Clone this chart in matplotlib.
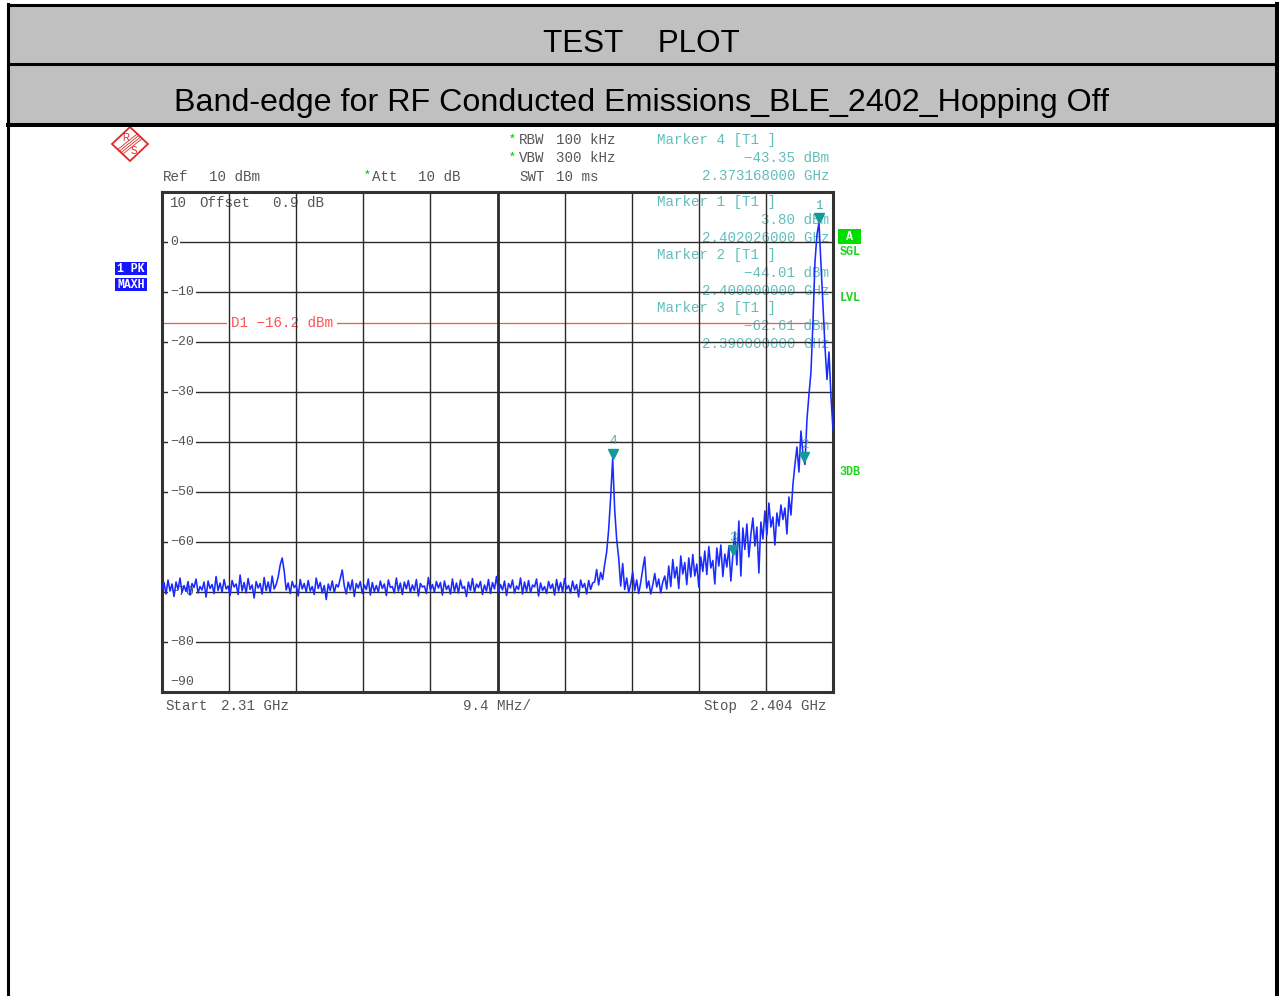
"""
Spectrum analyzer screenshot: band-edge, BLE 2402 MHz, hopping off.
Run:  python plot.py
"""

import matplotlib
matplotlib.use("Agg")
import matplotlib.pyplot as plt
import matplotlib.transforms as mtransforms
from matplotlib.patches import Rectangle, Polygon
import numpy as np

W, H = 1279, 996
MONO = ["Liberation Mono", "DejaVu Sans Mono"]
SANS = ["Liberation Sans", "DejaVu Sans"]
GREY = "#555555"
TEAL_TXT = "#62bdbd"
TEAL = "#14999a"
GREEN = "#1fd31f"
BLUE = "#1515ff"
RED = "#ff5050"

TITLE = "TEST    PLOT"
SUBTITLE = "Band-edge for RF Conducted Emissions_BLE_2402_Hopping Off"

START_GHZ, STOP_GHZ = 2.31, 2.404
REF_DBM, BOTTOM_DBM = 10, -90
GRID_DBM = [0, -10, -20, -30, -40, -50, -60, -70, -80]
DISPLAY_LINE_DBM = -16.2

MARKER_IDS = [1, 2, 3, 4]
MARKER_FREQ = [2.402026, 2.400, 2.390, 2.373168]
MARKER_LEVEL = [3.80, -44.01, -62.61, -43.35]

# max-hold trace (dBm), 336 sweep points
floor_low = [
    -69.2, -68.1, -70.4, -67.6, -69.8, -68.4, -70.9, -68.0, -69.5, -67.2,
    -70.1, -68.7, -69.9, -67.9, -70.6, -68.3, -69.1, -67.4, -70.2, -68.9,
    -69.6, -68.0, -71.0, -67.8, -69.3, -68.5, -70.3, -66.9, -69.7, -68.2,
    -70.0, -67.5, -69.4, -68.8, -70.7, -67.7, -69.0, -68.4, -70.5, -66.6,
    -69.8, -68.1, -70.2, -67.3, -69.5, -68.6, -71.2, -67.9, -69.2, -68.3,
    -70.4, -67.1, -69.7, -68.0, -70.1, -66.8, -69.4, -68.5, -67.0]
spur_2327 = [-64.6, -63.2, -65.8]
floor_mid = [
    -69.6, -68.2, -70.3, -67.9, -69.1, -68.6, -70.8, -67.5, -69.4, -68.3,
    -70.0, -67.7, -69.8, -68.9, -70.5, -67.2, -69.3, -68.1, -70.2, -68.7,
    -71.5, -68.4, -69.7, -67.8, -70.1, -68.5, -69.0, -67.3, -65.6, -68.8,
    -70.4, -68.0, -69.6, -67.6, -70.9, -68.3, -69.2, -67.9, -70.3, -68.6,
    -69.5, -67.4, -70.6, -68.1, -69.9, -68.7, -70.0, -67.8, -69.3, -68.4,
    -70.7, -67.6, -69.1, -68.9, -70.2, -67.2, -69.8, -68.2, -70.5, -68.0,
    -69.4, -67.7, -70.1, -68.6, -69.7, -67.5, -70.8, -68.3, -69.0, -68.8,
    -70.3, -67.1, -69.6, -68.5, -70.0, -67.9, -69.2, -68.1, -70.6, -67.8,
    -69.5, -68.7, -70.4, -67.4, -69.9, -68.2, -70.2, -67.6, -69.3, -68.9,
    -70.9, -68.0, -69.7, -67.3, -70.1, -68.4, -69.1, -67.9, -70.5, -68.6,
    -69.8, -67.5, -70.3, -68.1, -69.4, -66.9, -70.0, -68.5, -69.6, -67.8,
    -70.7, -68.3, -69.2, -67.6, -70.2, -68.8, -69.5, -67.2, -70.4, -68.0,
    -69.9, -67.7, -70.1, -68.6, -69.0, -67.4, -70.8, -68.2, -69.7, -68.9,
    -70.3, -67.9, -69.3, -68.4, -70.6, -67.5, -69.8, -68.1, -70.0, -67.3,
    -69.4, -68.7, -70.2, -67.8, -69.6, -68.5, -71.0, -67.6, -69.1, -68.3,
    -70.4, -67.7, -69.5, -68.2]
peak_2373 = [-68.0, -65.5, -68.6, -66.1, -67.5, -64.5, -62.0, -57.5, -51.0,
             -43.35, -53.5, -59.5, -63.2, -68.8, -64.3]
floor_high = [-69.5, -67.2, -70.1, -68.4, -66.0, -69.7, -67.6, -70.3, -68.1,
              -65.4, -63.0, -69.2, -67.8, -70.4, -68.6, -66.3, -69.0, -67.4,
              -70.2, -68.0, -66.8, -69.4]
skirt_a = [-64.8, -68.9, -63.5, -67.2, -65.0, -69.3, -62.8, -66.4, -64.1,
           -68.5, -63.2, -67.0, -62.5, -66.8, -64.4, -69.0, -63.0, -65.9]
skirt_b = [-61.8, -66.5, -60.9, -65.2, -63.7, -68.4, -61.2, -64.8, -60.6,
           -66.9, -62.4, -65.0, -61.0, -67.8, -62.6]
skirt_c = [-58.0, -64.6, -55.8, -66.8, -57.2, -61.5, -56.4, -63.0, -58.5,
           -55.2, -60.8, -57.0, -66.2, -56.0, -59.4]
skirt_d = [-53.8, -58.6, -52.2, -57.0, -55.0, -60.6, -54.2, -56.8, -52.6,
           -55.5, -53.2, -58.4, -51.0, -54.6, -48.5]
carrier = [-44.5, -41.0, -46.0, -37.8, -42.5, -44.5, -35.5, -30.5, -26.0,
           -16.0, -4.0, 1.5, 3.80, -4.5, -12.5, -21.0, -27.5, -22.0, -31.0,
           -37.5]


def dash(s):
    return s.replace("-", "\u2212")


fig = plt.figure(figsize=(W / 100, H / 100), dpi=100)
bg = fig.add_axes([0, 0, 1, 1])
bg.set_xlim(0, W)
bg.set_ylim(H, 0)
bg.axis("off")


def tx(x, y, s, color=GREY, ha="left", size=10.2, **kw):
    return bg.text(x, y, s, color=color, ha=ha, va="center", fontsize=size,
                   family=MONO, **kw)


# header bands
bg.add_patch(Rectangle((8, 5), 1269, 59, fc="#c0c0c0", ec="none"))
bg.add_patch(Rectangle((8, 64), 1269, 61, fc="#c0c0c0", ec="none"))
bg.plot([7.5, 1277], [5, 5], color="k", lw=2.2)
bg.plot([7.5, 1277], [63.5, 63.5], color="k", lw=2.2)
bg.plot([7.5, 1277], [124.7, 124.7], color="k", lw=2.9)
bg.plot([7.5, 7.5], [4, H], color="k", lw=2.2)
bg.plot([1277, 1277], [4, H], color="k", lw=2.9)
bg.text(641, 51.5, TITLE, ha="center", va="baseline", fontsize=22.6,
        family=SANS)
bg.text(642, 111, SUBTITLE, ha="center", va="baseline", fontsize=23.2,
        family=SANS)

# R&S logo
bg.add_patch(Polygon([(112, 144), (130, 127), (148, 144), (130, 161)],
                     closed=True, fill=False, ec="#e02828", lw=1.3))
for d in (-2.4, -0.8, 0.8, 2.4):
    bg.plot([120 + d, 140 + d], [152 + d, 136 + d], color="#e02828", lw=0.6)
bg.text(125.5, 138, "R", color="#e02828", fontsize=7, ha="center",
        va="center", family=SANS)
bg.text(134, 150.5, "S", color="#e02828", fontsize=7, ha="center",
        va="center", family=SANS)

# instrument settings
tx(163, 177, "Ref")
tx(209, 177, "10 dBm")
tx(364, 175, "*", color=GREEN, size=8, weight="bold")
tx(372, 177, "Att")
tx(418, 177, "10 dB")
tx(509, 139, "*", color=GREEN, size=8, weight="bold")
tx(509, 157, "*", color=GREEN, size=8, weight="bold")
tx(519, 140, "RBW")
tx(556, 140, "100 kHz")
tx(519, 158, "VBW")
tx(556, 158, "300 kHz")
tx(519, 177, "SWT")
tx(556, 177, "10 ms")
tx(170, 203, "10")
tx(199, 203, "Offset")
tx(273, 203, "0.9 dB")

# marker readouts (marker 4 above the grid, 1-3 inside)
block_y = {4: 140, 1: 202, 2: 254.5, 3: 308}
for mid, f, lvl in zip(MARKER_IDS, MARKER_FREQ, MARKER_LEVEL):
    y0 = block_y[mid]
    tx(657, y0, f"Marker {mid} [T1 ]", color=TEAL_TXT)
    tx(829, y0 + 18, dash(f"{lvl:.2f} dBm"), color=TEAL_TXT, ha="right")
    tx(829, y0 + 36, f"{f:.9f} GHz", color=TEAL_TXT, ha="right")

# side labels
bg.add_patch(Rectangle((115, 262), 32, 13, fc=BLUE, ec="none"))
bg.add_patch(Rectangle((115, 278), 32, 13, fc=BLUE, ec="none"))
tx(131, 268.5, "1 PK", color="white", ha="center", size=8.3, weight="bold")
tx(131, 284.5, "MAXH", color="white", ha="center", size=8.3, weight="bold")
bg.add_patch(Rectangle((838, 229), 23, 15, fc="#00dd00", ec="none"))
tx(849.5, 236.5, "A", color="white", ha="center", size=8.5, weight="bold")
tx(850, 252, "SGL", color=GREEN, ha="center", size=8.5, weight="bold")
tx(850, 298, "LVL", color=GREEN, ha="center", size=8.5, weight="bold")
tx(850, 472, "3DB", color=GREEN, ha="center", size=8.5, weight="bold")

# footer
tx(165, 706, "Start")
tx(221, 706, f"{START_GHZ:g} GHz")
tx(463, 706, "9.4 MHz/")
tx(703, 706, "Stop")
tx(827, 706, f"{STOP_GHZ:g} GHz", ha="right")

# the screen itself
ax = fig.add_axes([162 / W, 1 - 692 / H, 671 / W, 500 / H])
ax.set_xlim(START_GHZ, STOP_GHZ)
ax.set_ylim(BOTTOM_DBM, REF_DBM)
ax.patch.set_alpha(0)
ax.set_xticks([])
ax.set_yticks([])
for sp in ax.spines.values():
    sp.set_color("#333333")
    sp.set_linewidth(2.2)

div = (STOP_GHZ - START_GHZ) / 10
for k in range(1, 10):
    ax.axvline(START_GHZ + k * div, color="#2a2a2a",
               lw=2.0 if k == 5 else 1.0, zorder=2)
for lvl in GRID_DBM:
    ax.axhline(lvl, color="#2a2a2a", lw=1.0, zorder=2)

ytr = ax.get_yaxis_transform()
lab_x = (170 - 162) / 671
for lvl in GRID_DBM:
    ax.text(lab_x, lvl, dash(str(lvl)), transform=ytr, color=GREY,
            fontsize=9.5, family=MONO, va="center", ha="left", zorder=3,
            bbox=dict(fc="white", ec="none", pad=1.2))
ax.text(lab_x, BOTTOM_DBM + 2, dash(str(BOTTOM_DBM)), transform=ytr,
        color=GREY, fontsize=9.5, family=MONO, va="center", ha="left",
        zorder=3)

ax.axhline(DISPLAY_LINE_DBM, color=RED, lw=0.9, zorder=1)
ax.text((231 - 162) / 671, DISPLAY_LINE_DBM,
        dash(f"D1 {DISPLAY_LINE_DBM:g} dBm"), transform=ytr, color=RED,
        fontsize=10.2, family=MONO, va="center", ha="left", zorder=1.5,
        bbox=dict(fc="white", ec="none", pad=2.5))

trace = (floor_low + spur_2327 + floor_mid + peak_2373 + floor_high
         + skirt_a + skirt_b + skirt_c + skirt_d + carrier)
freqs = np.linspace(START_GHZ, STOP_GHZ, len(trace))
ax.plot(freqs, trace, color="#1a2bff", lw=1.15, zorder=4)

lift = ax.transData + mtransforms.ScaledTranslation(0, 3.5 / 72,
                                                    fig.dpi_scale_trans)
for mid, f, lvl in zip(MARKER_IDS, MARKER_FREQ, MARKER_LEVEL):
    ax.plot(f, lvl, marker="v", ms=6.5, color=TEAL, mec=TEAL, zorder=5,
            transform=lift)
    ax.annotate(str(mid), (f, lvl), xytext=(0, 12.5),
                textcoords="offset points", ha="center", va="center",
                color="#4aaeae", fontsize=9, family=MONO, zorder=5)

fig.savefig("out.png", dpi=100)
